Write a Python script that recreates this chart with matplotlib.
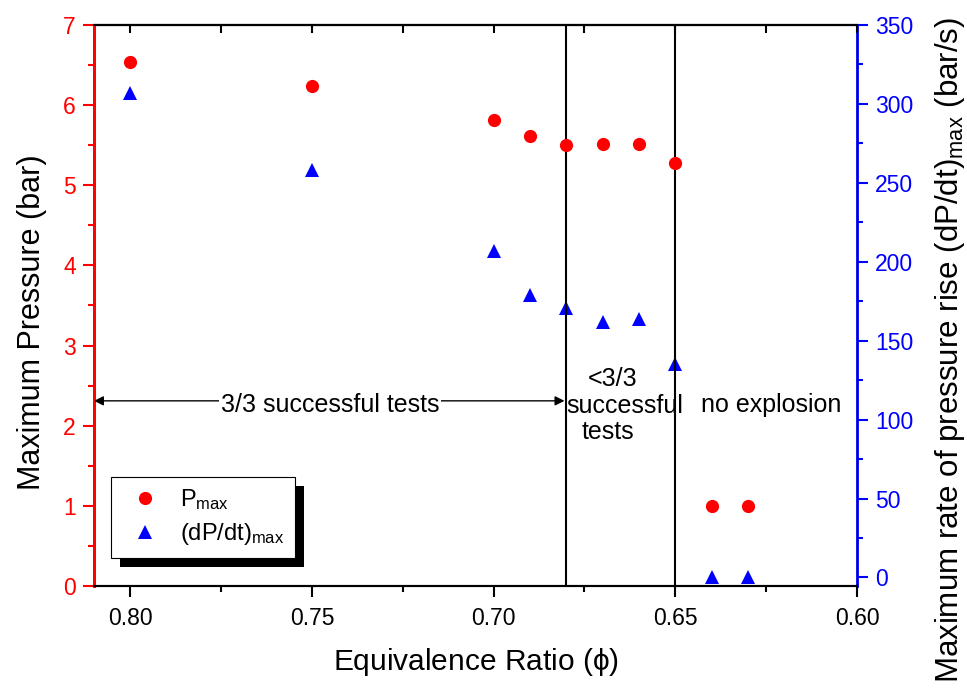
import matplotlib
matplotlib.use("Agg")
import matplotlib.pyplot as plt
from matplotlib.patches import Rectangle
from matplotlib.ticker import MultipleLocator, FormatStrFormatter

plt.rcParams["font.family"] = ["Liberation Sans", "DejaVu Sans"]
plt.rcParams["mathtext.default"] = "regular"

# equivalence ratio
phi = [0.80, 0.75, 0.70, 0.69, 0.68, 0.67, 0.66, 0.65, 0.64, 0.63]
# maximum pressure (bar)
p_max = [6.54, 6.24, 5.82, 5.61, 5.50, 5.52, 5.51, 5.28, 1.0, 1.0]
# maximum rate of pressure rise (bar/s)
dpdt_max = [307, 258, 207, 179, 171, 162, 164, 135, 0, 0]

phi_limits = [0.68, 0.65]

red = "#ff0000"
blue = "#0000ff"

fig, ax = plt.subplots(figsize=(9.67, 6.88), dpi=100)
fig.subplots_adjust(left=0.0972, right=0.8862, bottom=0.1483, top=0.9637)
ax2 = ax.twinx()

ax.plot(phi, p_max, "o", color=red, markersize=9.5, markeredgewidth=0,
        label=r"P$_{max}$", zorder=3)
ax2.plot(phi, dpdt_max, "^", color=blue, markersize=10.5, markeredgewidth=0,
         zorder=3)
# legend entry for the second axis
ax.plot([], [], "^", color=blue, markersize=10.5, markeredgewidth=0,
        label=r"(dP/dt)$_{max}$")

for x in phi_limits:
    ax.axvline(x, color="black", linewidth=1.5, zorder=2)

ax.set_xlim(0.81, 0.60)
ax.set_ylim(0, 7)
ax2.set_ylim(-5.4, 350)

ax.xaxis.set_major_locator(MultipleLocator(0.05))
ax.xaxis.set_minor_locator(MultipleLocator(0.025))
ax.xaxis.set_major_formatter(FormatStrFormatter("%.2f"))
ax.yaxis.set_major_locator(MultipleLocator(1))
ax.yaxis.set_minor_locator(MultipleLocator(0.5))
ax2.yaxis.set_major_locator(MultipleLocator(50))
ax2.yaxis.set_minor_locator(MultipleLocator(25))

tick_fs = 16.5
ax.tick_params(axis="x", which="major", length=8, width=1.5, labelsize=tick_fs,
               pad=7, direction="out")
ax.tick_params(axis="x", which="minor", length=4.5, width=1.5, direction="out")
ax.tick_params(axis="y", which="major", length=8, width=1.5, labelsize=tick_fs,
               colors=red, direction="out", pad=5)
ax.tick_params(axis="y", which="minor", length=4.5, width=1.5, colors=red,
               direction="out")
ax2.tick_params(axis="y", which="major", length=8, width=1.5, labelsize=tick_fs,
                colors=blue, direction="out", pad=5)
ax2.tick_params(axis="y", which="minor", length=4.5, width=1.5, colors=blue,
                direction="out")

top = ax.secondary_xaxis("top")
top.xaxis.set_major_locator(MultipleLocator(0.05))
top.xaxis.set_minor_locator(MultipleLocator(0.025))
top.tick_params(which="both", direction="in", length=6, width=1.5,
                labeltop=False)
top.spines["top"].set_linewidth(1.5)

for a in (ax, ax2):
    a.spines["bottom"].set_linewidth(1.5)
    a.spines["top"].set_linewidth(1.5)
ax2.spines["left"].set_color(red)
ax2.spines["left"].set_linewidth(2)
ax2.spines["right"].set_color(blue)
ax2.spines["right"].set_linewidth(2)
ax.spines["left"].set_color(red)
ax.spines["left"].set_linewidth(2)

ax.set_xlabel(r"Equivalence Ratio ($\phi$)", fontsize=21.5, labelpad=12)
ax.set_ylabel("Maximum Pressure (bar)", fontsize=22)
ax.yaxis.set_label_coords(-0.061, 0.47)
ax2.set_ylabel(r"Maximum rate of pressure rise (dP/dt)$_{max}$ (bar/s)",
               fontsize=22.5)
ax2.yaxis.set_label_coords(1.1, 0.42)

# region annotations
ann_fs = 18
ax.annotate("", xy=(0.81, 2.31), xytext=(0.6805, 2.31),
            arrowprops=dict(arrowstyle="<|-|>", color="black", lw=1,
                            mutation_scale=14, shrinkA=0, shrinkB=0),
            zorder=4)
ax.text(0.745, 2.26, "3/3 successful tests", fontsize=ann_fs, ha="center",
        va="center", bbox=dict(facecolor="white", edgecolor="none", pad=1),
        zorder=5)
ax.text(0.6672, 2.58, "<3/3", fontsize=ann_fs, ha="center", va="center",
        zorder=5)
ax.text(0.6639, 2.25, "successful", fontsize=ann_fs, ha="center",
        va="center", zorder=5)
ax.text(0.6686, 1.92, "tests", fontsize=ann_fs, ha="center", va="center",
        zorder=5)
ax.text(0.6237, 2.26, "no explosion", fontsize=ann_fs, ha="center",
        va="center", zorder=5)

ax.set_zorder(ax2.get_zorder() + 1)
ax.patch.set_visible(False)

leg = ax.legend(loc="lower left", bbox_to_anchor=(0.022, 0.05), fontsize=17,
                fancybox=False, edgecolor="black", framealpha=1,
                borderpad=0.45, labelspacing=0.38, handletextpad=0.5,
                borderaxespad=0, handlelength=2.0)
leg.get_frame().set_linewidth(0.8)
leg.set_zorder(6)

fig.canvas.draw()
bb = leg.get_window_extent()
shadow = Rectangle((bb.x0 + 9, bb.y0 - 9), bb.width, bb.height,
                   transform=None, facecolor="black", edgecolor="none",
                   zorder=5.5)
ax.add_artist(shadow)

fig.savefig("out.png", dpi=100)
